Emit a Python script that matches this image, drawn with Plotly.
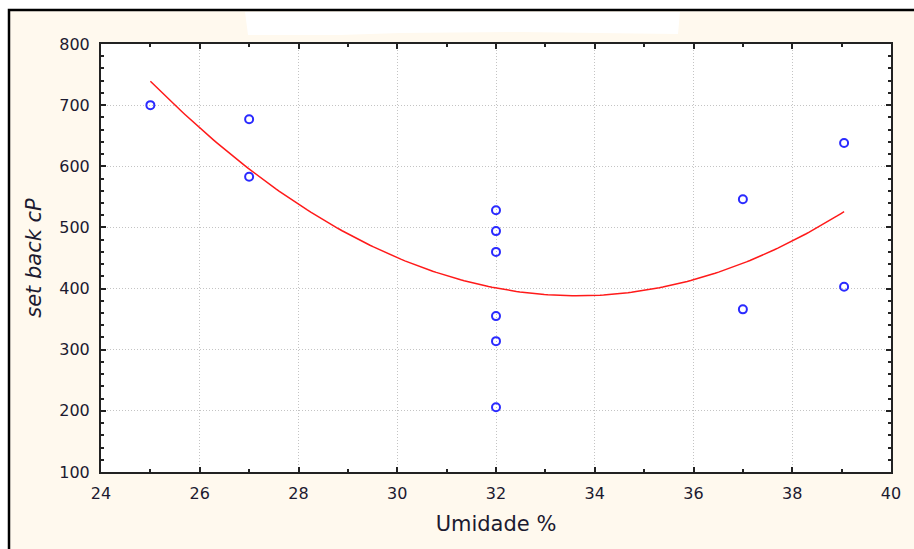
import numpy as np
import plotly.graph_objects as go

# Moisture content (%) and setback viscosity (cP) for each sample
umidade = [25, 27, 27, 32, 32, 32, 32, 32, 32, 37, 37, 39.05, 39.05]
set_back = [700, 677, 583, 528, 494, 460, 355, 314, 206, 546, 366, 638, 403]

x_ticks = [24, 26, 28, 30, 32, 34, 36, 38, 40]
y_ticks = [100, 200, 300, 400, 500, 600, 700, 800]

# Second-order polynomial fit through the samples
coef = np.polyfit(umidade, set_back, 2)
x_fit = np.linspace(min(umidade), max(umidade), 200)
y_fit = np.polyval(coef, x_fit)

W, H = 914, 549
L, R, T, B = 101, 23, 44, 77
PW, PH = W - L - R, H - T - B


def px(x):
    return (x - L) / PW


def py(y):
    return 1 - (y - T) / PH


CREAM = "#fff9ee"
TXT = "#1c1a30"
FONT = "DejaVu Sans, Verdana, sans-serif"

fig = go.Figure()

fig.add_trace(go.Scatter(
    x=x_fit, y=y_fit, mode="lines",
    line=dict(color="#ff1a1a", width=1.5),
    hoverinfo="skip", showlegend=False,
))
fig.add_trace(go.Scatter(
    x=umidade, y=set_back, mode="markers",
    marker=dict(symbol="circle-open", size=8, color="#2a2aff",
                line=dict(width=2, color="#2a2aff")),
    showlegend=False,
))

axis_common = dict(
    showline=True, linecolor="#222222", linewidth=2, mirror="ticks",
    ticks="inside", ticklen=5, tickwidth=1.5, tickcolor="#222222",
    showgrid=True, gridcolor="#c4c4c4", gridwidth=1, griddash="1px,2px",
    zeroline=False,
    tickfont=dict(family=FONT, size=16, color=TXT),
)

fig.update_xaxes(
    range=[24, 40], tickvals=x_ticks,
    minor=dict(ticks="inside", dtick=1, tick0=24, ticklen=3, tickcolor="#222222",
               showgrid=False),
    title=dict(text="Umidade %", standoff=14,
               font=dict(family=FONT, size=21, color=TXT)),
    ticklabelstandoff=6,
    **axis_common,
)
fig.update_yaxes(
    range=[100, 800], tickvals=y_ticks,
    minor=dict(ticks="inside", dtick=20, tick0=100, ticklen=3, tickcolor="#222222",
               showgrid=False),
    title=dict(text="<i>set back cP</i>", standoff=12,
               font=dict(family=FONT, size=21, color=TXT)),
    ticklabelstandoff=6,
    **axis_common,
)

shapes = [
    # cream panel with black frame on its top and left edges
    dict(type="rect", xref="paper", yref="paper", layer="below",
         x0=px(9), x1=px(W + 20), y0=py(H + 20), y1=py(10),
         fillcolor=CREAM, line=dict(color="black", width=2.5)),
    # white plotting area
    dict(type="rect", xref="paper", yref="paper", layer="below",
         x0=0, x1=1, y0=0, y1=1, fillcolor="white", line=dict(width=0)),
    # blank band where the title sits
    dict(type="path", xref="paper", yref="paper", layer="below",
         path=("M {:.4f},{:.4f} L {:.4f},{:.4f} L {:.4f},{:.4f} L {:.4f},{:.4f} "
               "L {:.4f},{:.4f} L {:.4f},{:.4f} L {:.4f},{:.4f} Z").format(
             px(245), py(12), px(680), py(12), px(678), py(34),
             px(520), py(32), px(400), py(33), px(340), py(35), px(248), py(35)),
         fillcolor="white", line=dict(width=0)),
]

fig.update_layout(
    width=W, height=H,
    margin=dict(l=L, r=R, t=T, b=B),
    paper_bgcolor="white", plot_bgcolor="white",
    shapes=shapes,
    showlegend=False,
)

fig.write_html("out.html")
